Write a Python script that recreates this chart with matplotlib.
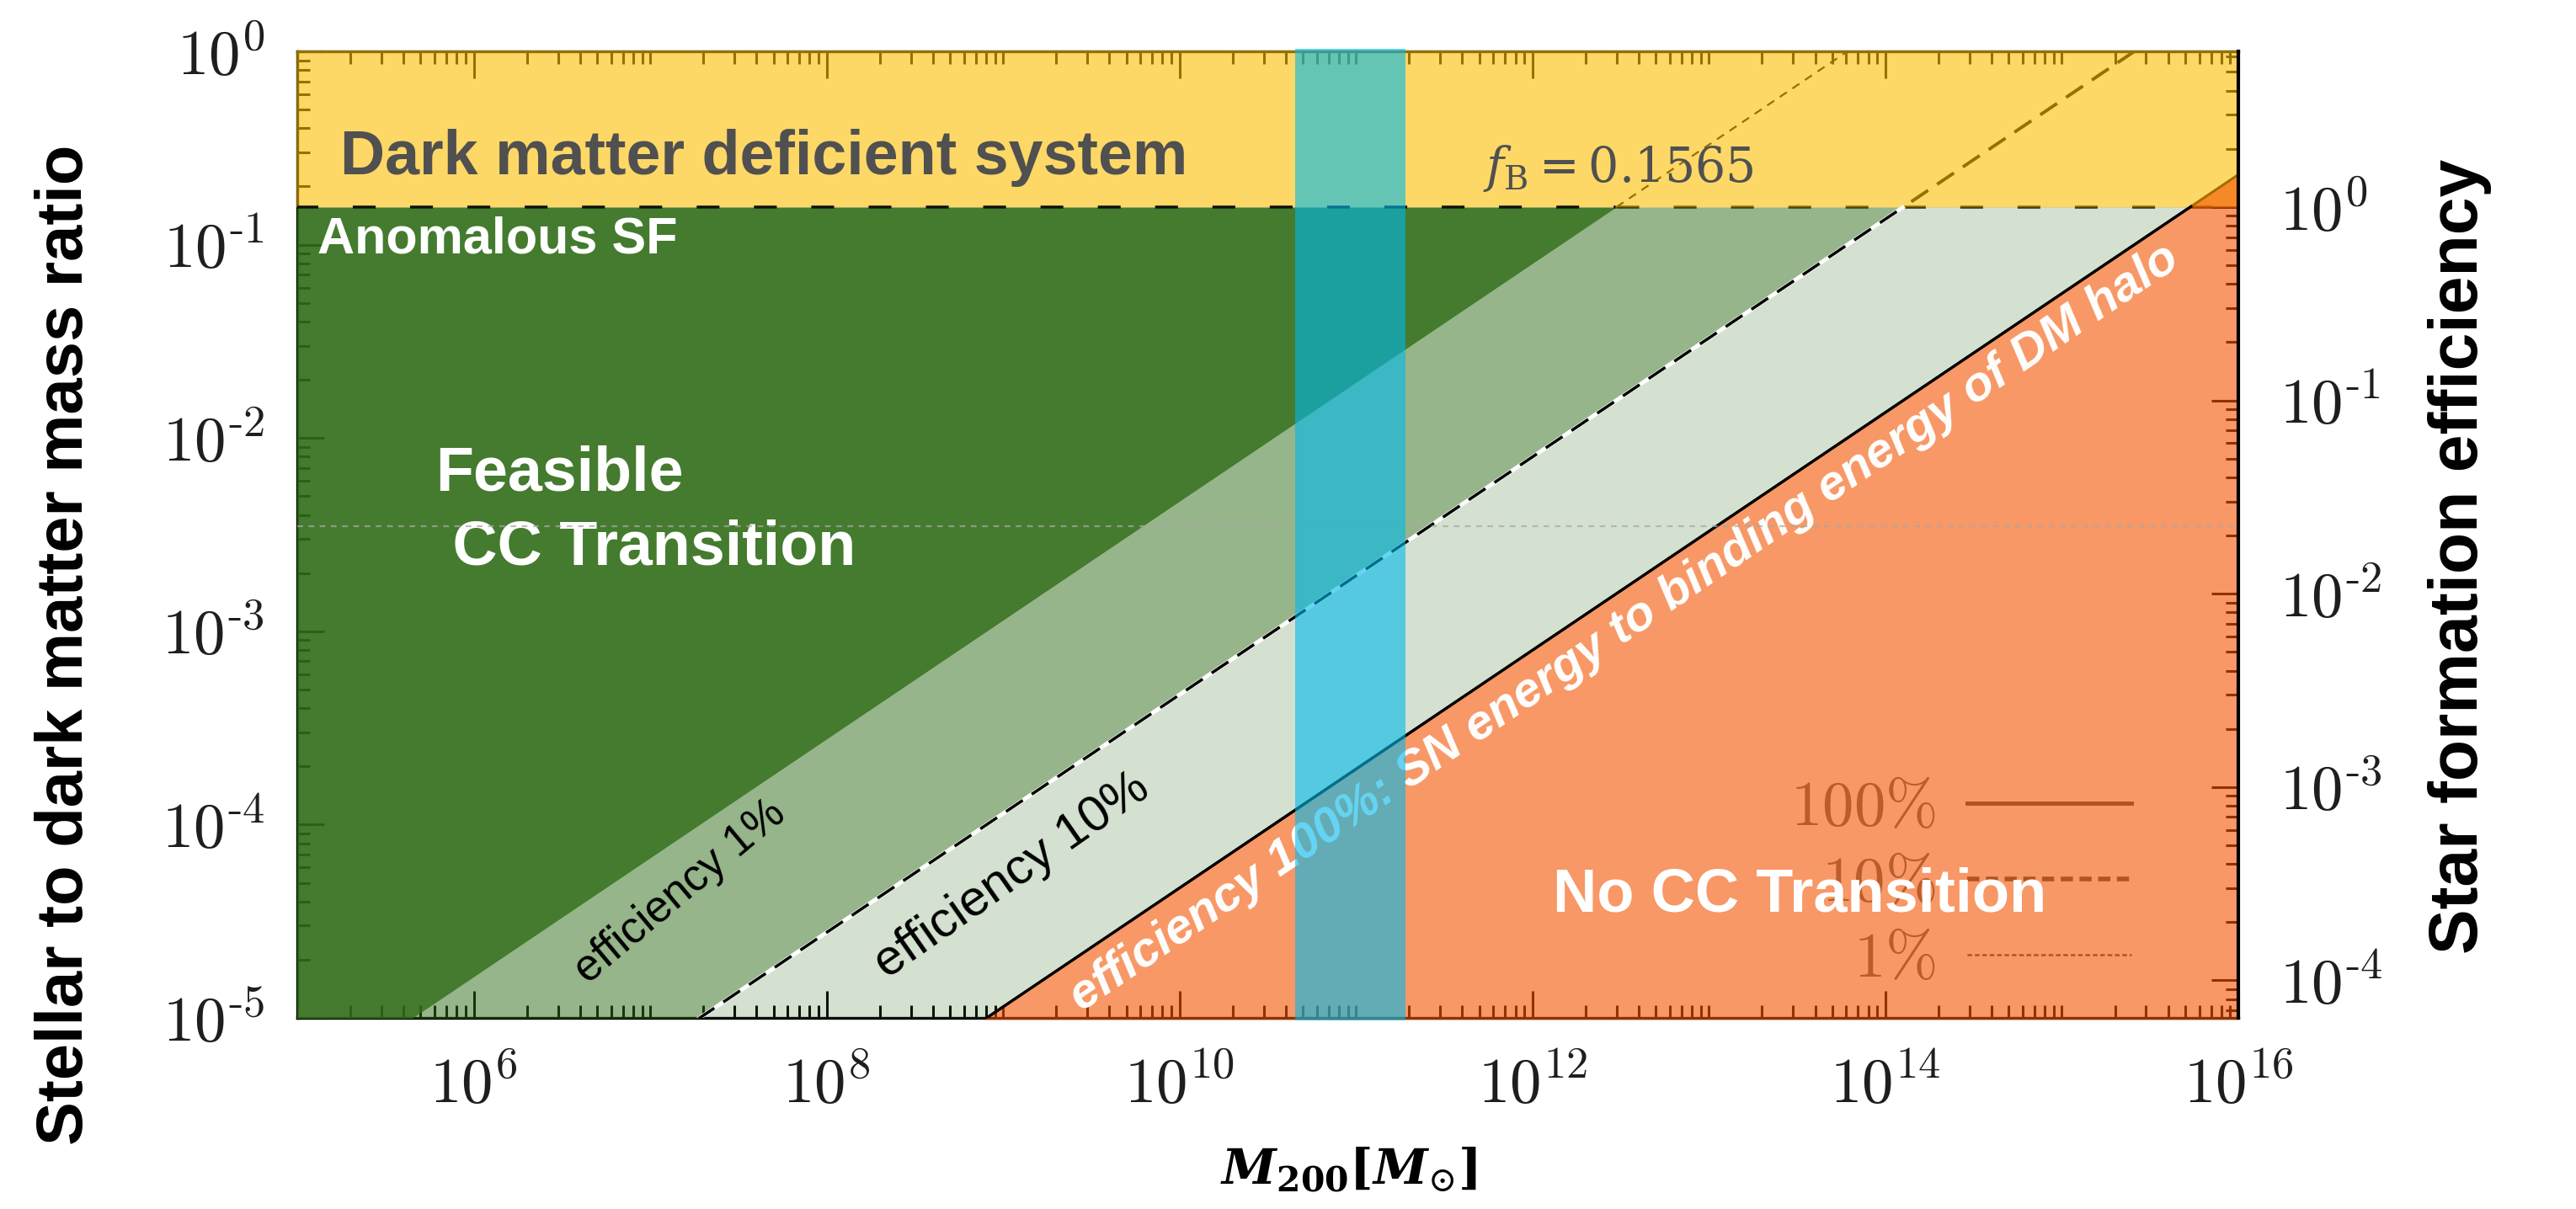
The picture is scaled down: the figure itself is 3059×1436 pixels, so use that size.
import numpy as np
import matplotlib
matplotlib.use("Agg")
import matplotlib.pyplot as plt
from matplotlib.lines import Line2D
from matplotlib.ticker import FixedLocator, LogLocator, FuncFormatter, NullFormatter

plt.rcParams['font.family'] = ['Liberation Sans', 'DejaVu Sans']
plt.rcParams['mathtext.fontset'] = 'cm'
# fuente "custom" para la etiqueta del eje x y f_B
plt.rcParams['mathtext.rm'] = 'DejaVu Serif'
plt.rcParams['mathtext.it'] = 'DejaVu Serif:italic'
plt.rcParams['mathtext.bf'] = 'DejaVu Serif:bold'
plt.rcParams['mathtext.bfit'] = 'DejaVu Serif:italic:bold'

# rangos de los ejes
m200_lim = [1e5, 1e16]
ratio_lim = [1e-5, 1.0]
f_b = 0.1565

# eficiencia SN -> energia de ligadura del halo
eff_levels = [1.0, 0.1, 0.01]
eff_labels = ['100%', '10%', '1%']
slope = 0.615
ratio_at_1e10 = 4.7e-5      # curva 100% en M200 = 1e10

# banda de masas resaltada y linea de referencia
band_m200 = [4.5e10, 1.9e11]
ref_ratio = 3.5e-3

x_ticks = [1e6, 1e8, 1e10, 1e12, 1e14, 1e16]
y_ticks = [1e-5, 1e-4, 1e-3, 1e-2, 1e-1, 1e0]
sfe_ticks = [1e-4, 1e-3, 1e-2, 1e-1, 1e0]

# colores de las capas (semi-transparentes)
YELLOW = (252/255, 190/255, 0)
ORANGE = (242/255, 83/255, 0)
GREEN = (47/255, 109/255, 23/255)
CYAN = (0, 185/255, 235/255)

TICK_FS = 54
LABEL_FS = 56


def pow10(v, pos):
    p = int(round(np.log10(v)))
    if p < 0:
        return r'$10^{\text{-}%d}$' % -p
    return r'$10^{%d}$' % p


fig = plt.figure(figsize=(30.59, 14.36), dpi=100)
ax = fig.add_axes([353/3059, 1 - 1209/1436, 2305/3059, 1148/1436])
ax.set_xscale('log')
ax.set_yscale('log')
ax.set_xlim(*m200_lim)
ax.set_ylim(*ratio_lim)

m = np.logspace(np.log10(m200_lim[0]) - 0.01, np.log10(m200_lim[1]), 3000)
curves = {e: ratio_at_1e10 / e * (m / 1e10) ** slope for e in eff_levels}
y100, y10, y1 = curves[1.0], curves[0.1], curves[0.01]
y_bot = 10 ** (np.log10(ratio_lim[0]) - 0.008)
y_top = 10 ** (np.log10(ratio_lim[1]) + 0.007)
m_in = m >= m200_lim[0] * 10 ** -0.009

# capa amarilla: sistemas deficientes en materia oscura
ax.fill_between(m[m_in], f_b, y_top, color=YELLOW, alpha=0.6, lw=0, zorder=3, clip_on=False)
# capa naranja: sin transicion
ax.fill_between(m[m_in], y_bot, np.maximum(y100, y_bot)[m_in], color=ORANGE, alpha=0.6,
                lw=0, zorder=3.1, clip_on=False)
# verdes por eficiencia
cap = lambda y: np.minimum(y, f_b)
ax.fill_between(m, cap(y100), cap(y10), color=GREEN, alpha=0.2, lw=0, zorder=3)
ax.fill_between(m, cap(y10), cap(y1), color=GREEN, alpha=0.5, lw=0, zorder=3)
ax.fill_between(m, cap(y1), f_b, color=GREEN, alpha=0.9, lw=0, zorder=3)

# curvas debajo de las capas (se ven doradas en la zona amarilla)
ax.plot(m, y100, color='k', lw=2.2, zorder=2)
ax.plot(m, y10, color='k', lw=2.8, ls=(0, (6.2, 3.3)), zorder=2)
ax.plot(m, np.where(y1 >= f_b, y1, np.nan), color='k', lw=1.6, ls=(0, (4.5, 3.6)), zorder=2)

# tramos por debajo de f_B encima de las capas
ax.plot(m, np.where(y10 <= f_b, y10, np.nan), color='white', lw=3.5, zorder=4)
ax.plot(m, np.where(y10 <= f_b, y10, np.nan), color='k', lw=2.5, ls=(0, (6.9, 3.7)), zorder=4.1)
ax.plot(m, np.where(y100 <= f_b * 1.01, y100, np.nan), color='k', lw=2.4, zorder=4.1)

# linea f_B
fb_line = np.full_like(m, f_b)
ax.plot(m, np.where(y1 > f_b, fb_line, np.nan), color='k', lw=2.5, ls=(0, (7.8, 11.8)), zorder=2)
ax.plot(m, np.where(y1 <= f_b, fb_line, np.nan), color='#111111', lw=2.5, ls=(0, (7.8, 11.8)),
        zorder=4.2)

ax.axhline(ref_ratio, color='#a8a8a8', lw=1.6, ls=(0, (3, 3)), alpha=0.75, zorder=4.5)

# textos de las regiones
ax.text(0.0221, 0.890, 'Dark matter deficient system', transform=ax.transAxes,
        fontsize=53, fontweight='bold', color='#505050', va='center', ha='left', zorder=4)
ax.text(0.0104, 0.805, 'Anomalous SF', transform=ax.transAxes,
        fontsize=44, fontweight='bold', color='white', va='center', ha='left', zorder=4)
ax.text(0.0711, 0.524, 'Feasible\n CC Transition', transform=ax.transAxes,
        fontsize=53, fontweight='bold', color='white', va='center', ha='left',
        linespacing=1.35, zorder=4)
ax.text(0.647, 0.127, 'No CC Transition', transform=ax.transAxes,
        fontsize=52, fontweight='bold', color='white', va='center', ha='left', zorder=4.3)
ax.text(0.611, 0.879, r'$f_{\mathrm{B}} = 0.1565$', transform=ax.transAxes,
        fontsize=41, color='#505050', va='center', ha='left', math_fontfamily='custom', zorder=4)
ax.text(0.1974, 0.1307, 'efficiency 1%', transform=ax.transAxes, fontsize=38, rotation=40,
        rotation_mode='anchor', ha='center', va='center', color='k', zorder=4)
ax.text(0.3683, 0.1472, 'efficiency 10%', transform=ax.transAxes, fontsize=43, rotation=35,
        rotation_mode='anchor', ha='center', va='center', color='k', zorder=4)
ax.text(0.6837, 0.4037, 'efficiency 100%: SN energy to binding energy of DM halo',
        transform=ax.transAxes, fontsize=42, rotation=34.2, rotation_mode='anchor',
        ha='center', va='center', color='white', fontweight='bold', fontstyle='italic', zorder=4)

# banda de masas (encima de todo lo demas)
ax.axvspan(band_m200[0], band_m200[1], ymin=-0.003, ymax=1.003, color=CYAN, alpha=0.6,
           lw=0, zorder=5, clip_on=False)

# leyenda debajo de la capa naranja
handles = [Line2D([], [], color='#555555', lw=3.6),
           Line2D([], [], color='#555555', lw=4.0, ls=(0, (2.6, 1.4))),
           Line2D([], [], color='#555555', lw=1.8, ls=(0, (2.2, 1.3)))]
leg = ax.legend(handles, [r'$%s\%%$' % s[:-1] for s in eff_labels], loc='center',
                bbox_to_anchor=(0.857, 0.138), frameon=False, markerfirst=False,
                fontsize=54, handlelength=2.6, handletextpad=0.5, labelspacing=0.28,
                borderpad=0, labelcolor='#6a6a6a')
leg.set_zorder(2)

# ejes y marcas
for side in ['left', 'top', 'bottom']:
    ax.spines[side].set_linewidth(2.4)
    ax.spines[side].set_zorder(2.5)
ax.spines['right'].set_linewidth(3.0)
ax.spines['right'].set_zorder(10)

ax.xaxis.set_major_locator(FixedLocator(x_ticks))
ax.xaxis.set_minor_locator(LogLocator(base=10, subs=np.arange(1, 10), numticks=100))
ax.xaxis.set_major_formatter(FuncFormatter(pow10))
ax.xaxis.set_minor_formatter(NullFormatter())
ax.yaxis.set_major_locator(FixedLocator(y_ticks))
ax.yaxis.set_minor_locator(LogLocator(base=10, subs=np.arange(2, 10), numticks=100))
ax.yaxis.set_major_formatter(FuncFormatter(pow10))
ax.yaxis.set_minor_formatter(NullFormatter())
ax.tick_params(which='both', direction='in', top=True, right=False, width=2.2,
               labelsize=TICK_FS, labelcolor='#1e1e1e')
ax.tick_params(which='major', length=23)
ax.tick_params(which='minor', length=11)
ax.tick_params(axis='x', pad=33)
ax.tick_params(axis='y', pad=28)

# eje derecho: eficiencia de formacion estelar
sec = ax.secondary_yaxis('right', functions=(lambda y: y / f_b, lambda e: e * f_b))
sec.yaxis.set_major_locator(FixedLocator(sfe_ticks))
sec.yaxis.set_minor_locator(LogLocator(base=10, subs=np.arange(2, 10), numticks=100))
sec.yaxis.set_major_formatter(FuncFormatter(pow10))
sec.yaxis.set_minor_formatter(NullFormatter())
sec.tick_params(which='both', direction='in', width=2.2, labelsize=TICK_FS,
                labelcolor='#1e1e1e', pad=35)
sec.tick_params(which='major', length=23)
sec.tick_params(which='minor', length=11)
for sp in sec.spines.values():
    sp.set_visible(False)

fig.text(78/3059, 0.467, 'Stellar to dark matter mass ratio', rotation=90, fontsize=LABEL_FS,
         fontweight='bold', ha='center', va='center')
fig.text(2921/3059, 0.540, 'Star formation efficiency', rotation=90, fontsize=58,
         fontweight='bold', ha='center', va='center')
fig.text(0.5234, 0.032, r'$\mathbfit{M}_{\mathbf{200}}\mathbf{[}\mathbfit{M}_{\odot}\mathbf{]}$',
         fontsize=42, ha='center', va='center', math_fontfamily='custom')

fig.savefig('out.png', dpi=100)
